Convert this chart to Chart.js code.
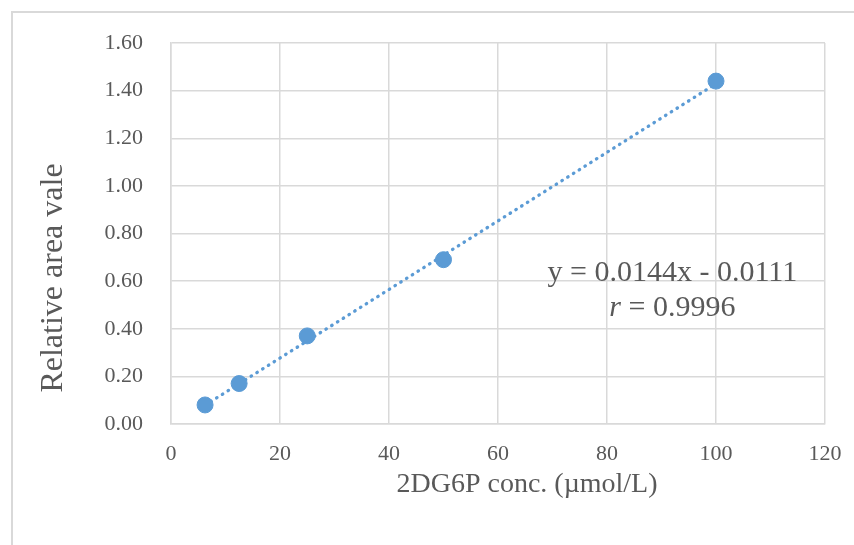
<!DOCTYPE html>
<html>
<head>
<meta charset="utf-8">
<script src="https://cdn.jsdelivr.net/npm/chart.js@4"></script>
<style>
  html, body { margin: 0; padding: 0; background: #fff; }
  #wrap { width: 854px; height: 545px; position: relative; }
</style>
</head>
<body>
<div id="wrap"><canvas id="calChart"></canvas></div>
<script>
// data
const concX = [6.25, 12.5, 25, 50, 100];
const areaY = [0.08, 0.17, 0.37, 0.69, 1.44];
// trendline ends (y = 0.0144x - 0.0111)
const trendX = [6.25, 100];
const trendY = [0.079, 1.429];
const eqLines = ['y = 0.0144x - 0.0111', 'r = 0.9996'];
const xTitle = '2DG6P conc. (µmol/L)';
const yTitle = 'Relative area vale';

const blue = '#5B9BD5';
const grey = '#595959';

// light frame round the chart
const framePlugin = {
    id: 'frame',
    beforeDraw(chart) {
        const c = chart.ctx;
        c.save();
        c.strokeStyle = '#d9d9d9';
        c.lineWidth = 2;
        c.beginPath();
        c.moveTo(12, 545);
        c.lineTo(12, 12);
        c.lineTo(854, 12);
        c.stroke();
        c.restore();
    }
};

// axis titles + equation text (Excel places them off-centre)
const textPlugin = {
    id: 'texts',
    afterDraw(chart) {
        const c = chart.ctx;
        const xs = chart.scales.x, ys = chart.scales.y;
        const f = '30px "Liberation Serif"';
        const fi = 'italic 30px "Liberation Serif"';
        c.save();
        c.fillStyle = grey;
        c.textBaseline = 'middle';
        c.textAlign = 'center';

        c.font = '28px "Liberation Serif"';
        c.fillText(xTitle, 527, 485);

        c.save();
        c.translate(54, 278);
        c.rotate(-Math.PI / 2);
        c.font = '32px "Liberation Serif"';
        c.fillText(yTitle, 0, 0);
        c.restore();

        c.font = f;
        c.fillText(eqLines[0], xs.getPixelForValue(92), ys.getPixelForValue(0.634));
        // second line: italic r
        const rest = eqLines[1].slice(1);
        c.font = fi;
        const w1 = c.measureText('r').width;
        c.font = f;
        const w2 = c.measureText(rest).width;
        const y2 = ys.getPixelForValue(0.487);
        const x0 = xs.getPixelForValue(92) - (w1 + w2) / 2;
        c.textAlign = 'left';
        c.font = fi;
        c.fillText('r', x0, y2);
        c.font = f;
        c.fillText(rest, x0 + w1, y2);
        c.restore();
    }
};

function createScatter() {
    const ctx = document.getElementById('calChart').getContext('2d');
    new Chart(ctx, {
        type: 'scatter',
        data: {
            datasets: [{
                data: concX.map((x, i) => ({ x: x, y: areaY[i] })),
                backgroundColor: blue,
                borderColor: blue,
                pointRadius: 8,
                pointHoverRadius: 8,
                order: 1
            }, {
                type: 'line',
                data: trendX.map((x, i) => ({ x: x, y: trendY[i] })),
                borderColor: blue,
                borderWidth: 3.3,
                borderDash: [0.5, 6.3],
                borderCapStyle: 'round',
                pointRadius: 0,
                fill: false,
                order: 2
            }]
        },
        options: {
            responsive: true,
            maintainAspectRatio: false,
            animation: false,
            layout: { padding: { left: 0, top: 43, right: 29, bottom: 0 } },
            plugins: {
                legend: { display: false },
                tooltip: { enabled: false }
            },
            scales: {
                x: {
                    type: 'linear',
                    min: 0,
                    max: 120,
                    ticks: {
                        stepSize: 20,
                        color: grey,
                        padding: 17,
                        font: { family: 'Liberation Serif', size: 22 }
                    },
                    grid: { color: '#d9d9d9', lineWidth: 1.5, drawTicks: false },
                    border: { color: '#d9d9d9', width: 1.5 },
                    afterFit(scale) {
                        scale.height = 121;
                        scale.paddingLeft = 0;
                        scale.paddingRight = 0;
                    }
                },
                y: {
                    min: 0,
                    max: 1.6,
                    ticks: {
                        stepSize: 0.2,
                        color: grey,
                        padding: 28,
                        font: { family: 'Liberation Serif', size: 22 },
                        callback: v => v.toFixed(2)
                    },
                    grid: { color: '#d9d9d9', lineWidth: 1.5, drawTicks: false },
                    border: { color: '#d9d9d9', width: 1.5 },
                    afterFit(scale) {
                        scale.width = 171;
                        scale.paddingTop = 0;
                        scale.paddingBottom = 0;
                    }
                }
            }
        },
        plugins: [framePlugin, textPlugin]
    });
}

createScatter();
</script>
</body>
</html>
